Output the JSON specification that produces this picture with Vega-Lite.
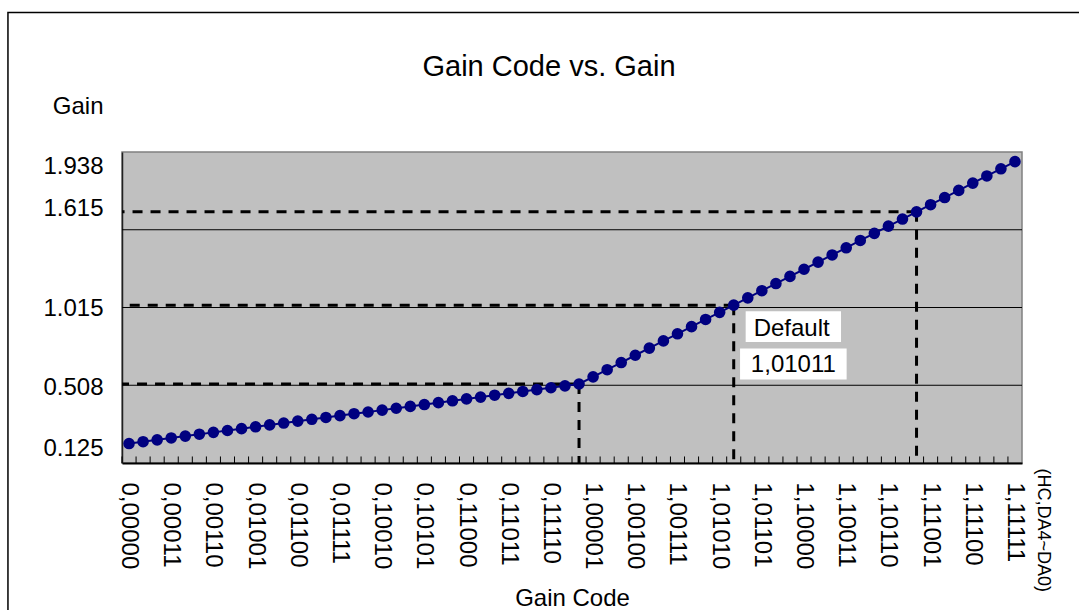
{
  "$schema": "https://vega.github.io/schema/vega-lite/v6.json",
  "width": 900,
  "height": 311,
  "autosize": "none",
  "padding": {"left": 122, "top": 152, "right": 57, "bottom": 147},
  "background": "white",
  "config": {
    "font": "Liberation Sans",
    "view": {"fill": "#C0C0C0", "stroke": "#808080", "strokeWidth": 1.5},
    "axis": {"labelFont": "Liberation Sans", "titleFont": "Liberation Sans", "labelColor": "black", "titleColor": "black", "titleFontWeight": "normal"}
  },
  "title": {"text": "Gain Code vs. Gain", "fontSize": 29, "fontWeight": "normal", "font": "Liberation Sans", "color": "black", "anchor": "middle", "frame": "group", "dx": -23, "offset": -93, "baseline": "alphabetic"},
  "datasets": {
    "points": [
      {"idx": 0, "code": "0,00000", "gain": 0.125},
      {"idx": 1, "code": "0,00001", "gain": 0.137},
      {"idx": 2, "code": "0,00010", "gain": 0.149},
      {"idx": 3, "code": "0,00011", "gain": 0.161},
      {"idx": 4, "code": "0,00100", "gain": 0.173},
      {"idx": 5, "code": "0,00101", "gain": 0.185},
      {"idx": 6, "code": "0,00110", "gain": 0.197},
      {"idx": 7, "code": "0,00111", "gain": 0.209},
      {"idx": 8, "code": "0,01000", "gain": 0.221},
      {"idx": 9, "code": "0,01001", "gain": 0.233},
      {"idx": 10, "code": "0,01010", "gain": 0.245},
      {"idx": 11, "code": "0,01011", "gain": 0.257},
      {"idx": 12, "code": "0,01100", "gain": 0.269},
      {"idx": 13, "code": "0,01101", "gain": 0.281},
      {"idx": 14, "code": "0,01110", "gain": 0.293},
      {"idx": 15, "code": "0,01111", "gain": 0.305},
      {"idx": 16, "code": "0,10000", "gain": 0.317},
      {"idx": 17, "code": "0,10001", "gain": 0.328},
      {"idx": 18, "code": "0,10010", "gain": 0.340},
      {"idx": 19, "code": "0,10011", "gain": 0.352},
      {"idx": 20, "code": "0,10100", "gain": 0.364},
      {"idx": 21, "code": "0,10101", "gain": 0.376},
      {"idx": 22, "code": "0,10110", "gain": 0.388},
      {"idx": 23, "code": "0,10111", "gain": 0.400},
      {"idx": 24, "code": "0,11000", "gain": 0.412},
      {"idx": 25, "code": "0,11001", "gain": 0.424},
      {"idx": 26, "code": "0,11010", "gain": 0.436},
      {"idx": 27, "code": "0,11011", "gain": 0.448},
      {"idx": 28, "code": "0,11100", "gain": 0.460},
      {"idx": 29, "code": "0,11101", "gain": 0.472},
      {"idx": 30, "code": "0,11110", "gain": 0.484},
      {"idx": 31, "code": "0,11111", "gain": 0.496},
      {"idx": 32, "code": "1,00000", "gain": 0.508},
      {"idx": 33, "code": "1,00001", "gain": 0.554},
      {"idx": 34, "code": "1,00010", "gain": 0.600},
      {"idx": 35, "code": "1,00011", "gain": 0.646},
      {"idx": 36, "code": "1,00100", "gain": 0.693},
      {"idx": 37, "code": "1,00101", "gain": 0.739},
      {"idx": 38, "code": "1,00110", "gain": 0.785},
      {"idx": 39, "code": "1,00111", "gain": 0.831},
      {"idx": 40, "code": "1,01000", "gain": 0.877},
      {"idx": 41, "code": "1,01001", "gain": 0.923},
      {"idx": 42, "code": "1,01010", "gain": 0.969},
      {"idx": 43, "code": "1,01011", "gain": 1.015},
      {"idx": 44, "code": "1,01100", "gain": 1.062},
      {"idx": 45, "code": "1,01101", "gain": 1.108},
      {"idx": 46, "code": "1,01110", "gain": 1.154},
      {"idx": 47, "code": "1,01111", "gain": 1.200},
      {"idx": 48, "code": "1,10000", "gain": 1.246},
      {"idx": 49, "code": "1,10001", "gain": 1.292},
      {"idx": 50, "code": "1,10010", "gain": 1.338},
      {"idx": 51, "code": "1,10011", "gain": 1.384},
      {"idx": 52, "code": "1,10100", "gain": 1.431},
      {"idx": 53, "code": "1,10101", "gain": 1.477},
      {"idx": 54, "code": "1,10110", "gain": 1.523},
      {"idx": 55, "code": "1,10111", "gain": 1.569},
      {"idx": 56, "code": "1,11000", "gain": 1.615},
      {"idx": 57, "code": "1,11001", "gain": 1.661},
      {"idx": 58, "code": "1,11010", "gain": 1.707},
      {"idx": 59, "code": "1,11011", "gain": 1.753},
      {"idx": 60, "code": "1,11100", "gain": 1.800},
      {"idx": 61, "code": "1,11101", "gain": 1.846},
      {"idx": 62, "code": "1,11110", "gain": 1.892},
      {"idx": 63, "code": "1,11111", "gain": 1.938}
    ]
  },
  "resolve": {"scale": {"x": "independent"}},
  "layer": [
    {
      "data": {"values": [{"gain": 0.5}, {"gain": 1.0}, {"gain": 1.5}]},
      "mark": {"type": "rule", "color": "black", "strokeWidth": 1},
      "encoding": {
        "y": {
          "field": "gain", "type": "quantitative",
          "scale": {"domain": [0, 2], "nice": false, "zero": false},
          "axis": {
            "values": [0.125, 0.508, 1.015, 1.615, 1.938],
            "format": ".3f",
            "grid": false,
            "ticks": false,
            "labelFontSize": 24,
            "labelPadding": 19,
            "labelOffset": {"condition": [{"test": "datum.value == 1.615", "value": -3}, {"test": "datum.value == 1.938 || datum.value == 0.125", "value": 5}], "value": 3},
            "domainColor": "#202020",
            "domainWidth": 1.5,
            "title": "Gain",
            "titleFontSize": 24,
            "titleAngle": 0,
            "titleAlign": "right",
            "titleBaseline": "alphabetic",
            "titleX": -19,
            "titleY": -39
          }
        }
      }
    },
    {
      "data": {"name": "points"},
      "mark": {"type": "rule", "color": "black", "strokeWidth": 1},
      "encoding": {
        "x": {"field": "code", "type": "ordinal", "sort": null, "bandPosition": 0, "scale": {"type": "band", "paddingInner": 0, "paddingOuter": 0}, "axis": null},
        "y": {"datum": 0, "type": "quantitative", "scale": {"domain": [0, 2], "nice": false, "zero": false}, "title": "Gain"},
        "y2": {"datum": 0.042}
      }
    },
    {
      "data": {"name": "points"},
      "transform": [{"filter": "datum.idx == 32 || datum.idx == 43 || datum.idx == 56"}],
      "mark": {"type": "rule", "color": "black", "strokeWidth": 3, "strokeDash": [10, 8]},
      "encoding": {
        "x": {"field": "idx", "type": "quantitative", "scale": {"domain": [-0.5, 63.5], "nice": false, "zero": false}, "axis": null},
        "x2": {"datum": -0.5},
        "y": {"field": "gain", "type": "quantitative", "scale": {"domain": [0, 2], "nice": false, "zero": false}, "title": "Gain"}
      }
    },
    {
      "data": {"name": "points"},
      "transform": [{"filter": "datum.idx == 32 || datum.idx == 43 || datum.idx == 56"}],
      "mark": {"type": "rule", "color": "black", "strokeWidth": 3, "strokeDash": [10, 8]},
      "encoding": {
        "x": {"field": "idx", "type": "quantitative", "scale": {"domain": [-0.5, 63.5], "nice": false, "zero": false}, "axis": null},
        "y": {"field": "gain", "type": "quantitative", "scale": {"domain": [0, 2], "nice": false, "zero": false}, "title": "Gain"},
        "y2": {"datum": 0}
      }
    },
    {
      "data": {"name": "points"},
      "encoding": {
        "x": {
          "field": "code", "type": "ordinal", "sort": null,
          "scale": {"type": "band", "paddingInner": 0, "paddingOuter": 0},
          "axis": {
            "labelAngle": 90,
            "labelFontSize": 24,
            "labelOverlap": false,
            "labelExpr": "indexof(['0,00000','0,00011','0,00110','0,01001','0,01100','0,01111','0,10010','0,10101','0,11000','0,11011','0,11110','1,00001','1,00100','1,00111','1,01010','1,01101','1,10000','1,10011','1,10110','1,11001','1,11100','1,11111'], datum.value) >= 0 ? datum.label : ''",
            "ticks": false,
            "domainColor": "black",
            "domainWidth": 2,
            "labelPadding": 19,
            "title": "Gain Code",
            "titleFontSize": 24,
            "titleY": 142,
            "titleBaseline": "alphabetic"
          }
        },
        "y": {"field": "gain", "type": "quantitative", "scale": {"domain": [0, 2], "nice": false, "zero": false}, "title": "Gain"}
      },
      "layer": [
        {"mark": {"type": "line", "color": "#000080", "strokeWidth": 2}},
        {"mark": {"type": "point", "filled": true, "color": "#000080", "size": 135, "opacity": 1}}
      ]
    },
    {
      "data": {"values": [{}]},
      "mark": {"type": "rect", "fill": "white"},
      "encoding": {
        "x": {"datum": 43.85, "type": "quantitative", "scale": {"domain": [-0.5, 63.5], "nice": false, "zero": false}, "axis": null},
        "x2": {"datum": 50.63},
        "y": {"datum": 0.9756, "type": "quantitative", "scale": {"domain": [0, 2], "nice": false, "zero": false}, "title": "Gain"},
        "y2": {"datum": 0.778}
      }
    },
    {
      "data": {"values": [{}]},
      "mark": {"type": "rect", "fill": "white"},
      "encoding": {
        "x": {"datum": 43.45, "type": "quantitative", "scale": {"domain": [-0.5, 63.5], "nice": false, "zero": false}, "axis": null},
        "x2": {"datum": 51.03},
        "y": {"datum": 0.736, "type": "quantitative", "scale": {"domain": [0, 2], "nice": false, "zero": false}, "title": "Gain"},
        "y2": {"datum": 0.537}
      }
    },
    {
      "data": {"values": [{}]},
      "mark": {"type": "text", "text": "Default", "fontSize": 24, "align": "center", "baseline": "middle", "color": "black"},
      "encoding": {
        "x": {"datum": 47.12, "type": "quantitative", "scale": {"domain": [-0.5, 63.5], "nice": false, "zero": false}, "axis": null},
        "y": {"datum": 0.864, "type": "quantitative", "scale": {"domain": [0, 2], "nice": false, "zero": false}, "title": "Gain"}
      }
    },
    {
      "data": {"values": [{}]},
      "mark": {"type": "text", "text": "1,01011", "fontSize": 24, "align": "center", "baseline": "middle", "color": "black"},
      "encoding": {
        "x": {"datum": 47.24, "type": "quantitative", "scale": {"domain": [-0.5, 63.5], "nice": false, "zero": false}, "axis": null},
        "y": {"datum": 0.629, "type": "quantitative", "scale": {"domain": [0, 2], "nice": false, "zero": false}, "title": "Gain"}
      }
    },
    {
      "data": {"values": [{}]},
      "mark": {"type": "text", "text": "(HC,DA4~DA0)", "fontSize": 18, "angle": 90, "align": "center", "baseline": "middle", "color": "black"},
      "encoding": {
        "x": {"datum": 64.96, "type": "quantitative", "scale": {"domain": [-0.5, 63.5], "nice": false, "zero": false}, "axis": null},
        "y": {"datum": -0.432, "type": "quantitative", "scale": {"domain": [0, 2], "nice": false, "zero": false}, "title": "Gain"}
      }
    },
    {
      "data": {"values": [{}]},
      "mark": {"type": "rect", "fillOpacity": 0, "fill": "white", "stroke": "black", "strokeWidth": 1.5},
      "encoding": {
        "x": {"datum": -8.61, "type": "quantitative", "scale": {"domain": [-0.5, 63.5], "nice": false, "zero": false}, "axis": null},
        "x2": {"datum": 80},
        "y": {"datum": 2.897, "type": "quantitative", "scale": {"domain": [0, 2], "nice": false, "zero": false}, "title": "Gain"},
        "y2": {"datum": -1.5}
      }
    }
  ]
}
